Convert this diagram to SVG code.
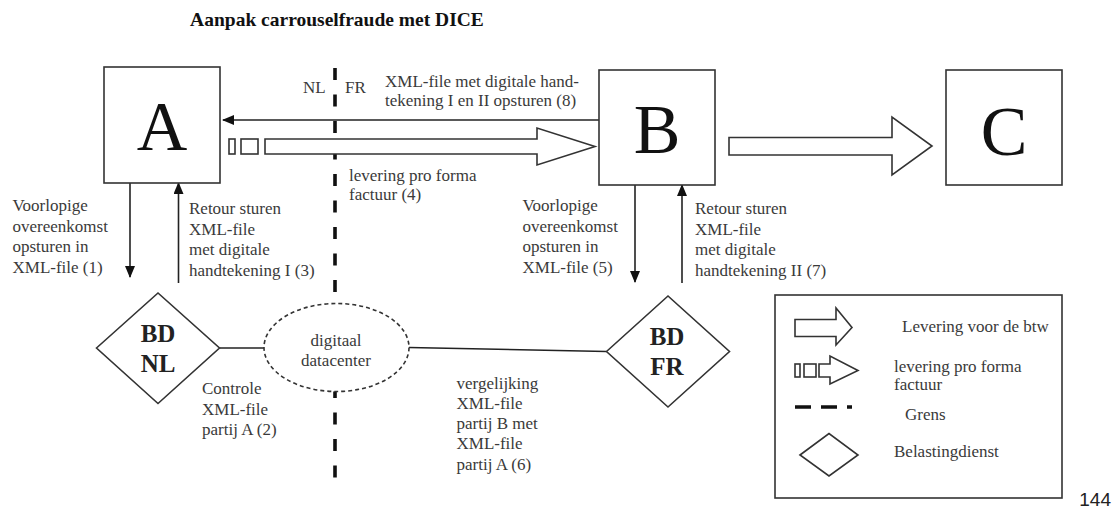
<svg xmlns="http://www.w3.org/2000/svg" width="1120" height="509" viewBox="0 0 1120 509">
<defs>
<marker id="ah" markerWidth="12" markerHeight="10" refX="11" refY="5" orient="auto" markerUnits="userSpaceOnUse">
<path d="M0,0 L12,5 L0,10 Z" fill="#111"/>
</marker>
<style>
.t{font-family:"Liberation Serif","Times New Roman",serif;font-size:17px;fill:#3a3a3a}
.big{font-family:"Liberation Serif","Times New Roman",serif;font-size:70px;fill:#111;text-anchor:middle}
.bd{font-family:"Liberation Serif","Times New Roman",serif;font-size:25px;font-weight:bold;fill:#222;text-anchor:middle}
.box{fill:#fff;stroke:#333;stroke-width:1.6}
.ln{fill:none;stroke:#222;stroke-width:1.6}
.hol{fill:#fff;stroke:#333;stroke-width:1.6}
.grens{fill:none;stroke:#111;stroke-width:3.6}
</style>
</defs>
<rect width="1120" height="509" fill="#fff"/>
<text x="337" y="26" text-anchor="middle" style="font-family:'Liberation Serif','Times New Roman',serif;font-size:19.5px;font-weight:bold;fill:#111">Aanpak carrouselfraude met DICE</text>

<g id="border">
<line class="grens" x1="335" y1="68" x2="335" y2="486" stroke-dasharray="12 14.5"/>
<text class="t" x="303" y="93">NL</text>
<text class="t" x="345" y="93">FR</text>
</g>

<g id="connectors">
<line class="ln" x1="599" y1="120" x2="223" y2="120" marker-end="url(#ah)"/>
<rect class="hol" x="229" y="139" width="6" height="15"/>
<rect class="hol" x="241" y="139" width="17" height="15"/>
<polygon class="hol" points="265,139 537,139 537,128 595,146.5 537,165 537,154 265,154"/>
<polygon class="hol" points="729,137.5 892,137.5 892,117 932,146 892,175 892,155 729,155"/>
<line class="ln" x1="130" y1="183" x2="130" y2="277" marker-end="url(#ah)"/>
<line class="ln" x1="178.5" y1="283" x2="178.5" y2="183" marker-end="url(#ah)"/>
<line class="ln" x1="635" y1="185" x2="635" y2="282" marker-end="url(#ah)"/>
<line class="ln" x1="682" y1="283" x2="682" y2="185" marker-end="url(#ah)"/>
<line class="ln" x1="219.5" y1="348" x2="264" y2="348"/>
<line class="ln" x1="409" y1="347.5" x2="606.5" y2="351.5"/>
</g>

<g id="labels">
<text class="t" x="385" y="87">XML-file met digitale hand-</text>
<text class="t" x="385" y="106">tekening I en II opsturen (8)</text>
<text class="t" x="349" y="181">levering pro forma</text>
<text class="t" x="349" y="200">factuur (4)</text>
<text class="t" x="12.5" y="211">Voorlopige</text>
<text class="t" x="12.5" y="231.5">overeenkomst</text>
<text class="t" x="12.5" y="252">opsturen in</text>
<text class="t" x="12.5" y="272.5">XML-file (1)</text>
<text class="t" x="189" y="214">Retour sturen</text>
<text class="t" x="189" y="234.5">XML-file</text>
<text class="t" x="189" y="255">met digitale</text>
<text class="t" x="189" y="275.5">handtekening I (3)</text>
<text class="t" x="522.5" y="211">Voorlopige</text>
<text class="t" x="522.5" y="231.5">overeenkomst</text>
<text class="t" x="522.5" y="252">opsturen in</text>
<text class="t" x="522.5" y="272.5">XML-file (5)</text>
<text class="t" x="695" y="214">Retour sturen</text>
<text class="t" x="695" y="234.5">XML-file</text>
<text class="t" x="695" y="255">met digitale</text>
<text class="t" x="695" y="275.5">handtekening II (7)</text>
<text class="t" x="202" y="394">Controle</text>
<text class="t" x="202" y="414.5">XML-file</text>
<text class="t" x="202" y="435">partij A (2)</text>
<text class="t" x="456.5" y="388.5">vergelijking</text>
<text class="t" x="456.5" y="409">XML-file</text>
<text class="t" x="456.5" y="429">partij B met</text>
<text class="t" x="456.5" y="449">XML-file</text>
<text class="t" x="456.5" y="469.5">partij A (6)</text>
</g>

<g id="node-A">
<rect class="box" x="104" y="67" width="116" height="116"/>
<text class="big" x="162" y="150">A</text>
</g>
<g id="node-B">
<rect class="box" x="599" y="70" width="116" height="115"/>
<text class="big" x="657" y="153">B</text>
</g>
<g id="node-C">
<rect class="box" x="946" y="70" width="116" height="115"/>
<text class="big" x="1004" y="155">C</text>
</g>
<g id="node-BDNL">
<polygon class="box" points="96.5,348 158,293 219.5,348 158,403.5"/>
<text class="bd" x="158" y="342">BD</text>
<text class="bd" x="158" y="372">NL</text>
</g>
<g id="node-datacenter">
<ellipse cx="336.5" cy="347.5" rx="72.5" ry="44" fill="#fff" stroke="#333" stroke-width="1.6" stroke-dasharray="4 3"/>
<text class="t" x="336" y="346" text-anchor="middle">digitaal</text>
<text class="t" x="336" y="366" text-anchor="middle">datacenter</text>
</g>
<g id="node-BDFR">
<polygon class="box" points="606.5,351.5 668,296 729.5,351.5 668,407"/>
<text class="bd" x="667" y="345">BD</text>
<text class="bd" x="667" y="375">FR</text>
</g>

<g id="legend">
<rect class="box" x="775" y="295" width="287" height="203"/>
<polygon class="hol" points="795,319.5 836,319.5 836,308 852,327.5 836,345 836,336.5 795,336.5"/>
<text class="t" x="902" y="332">Levering voor de btw</text>
<rect class="hol" x="795" y="364" width="5" height="13"/>
<rect class="hol" x="804" y="364" width="12" height="13"/>
<polygon class="hol" points="819,364 830,364 830,356 858,370.5 830,384 830,377 819,377"/>
<text class="t" x="894" y="372">levering pro forma</text>
<text class="t" x="894" y="390">factuur</text>
<line class="grens" x1="795" y1="407" x2="852" y2="407" stroke-dasharray="16 10"/>
<text class="t" x="905" y="419.5">Grens</text>
<polygon class="box" points="800,455 829,433.5 858,455 829,476"/>
<text class="t" x="894" y="457">Belastingdienst</text>
</g>
<text x="1111" y="506" text-anchor="end" style="font-family:'Liberation Sans',Arial,sans-serif;font-size:19px;fill:#222">144</text>
</svg>
